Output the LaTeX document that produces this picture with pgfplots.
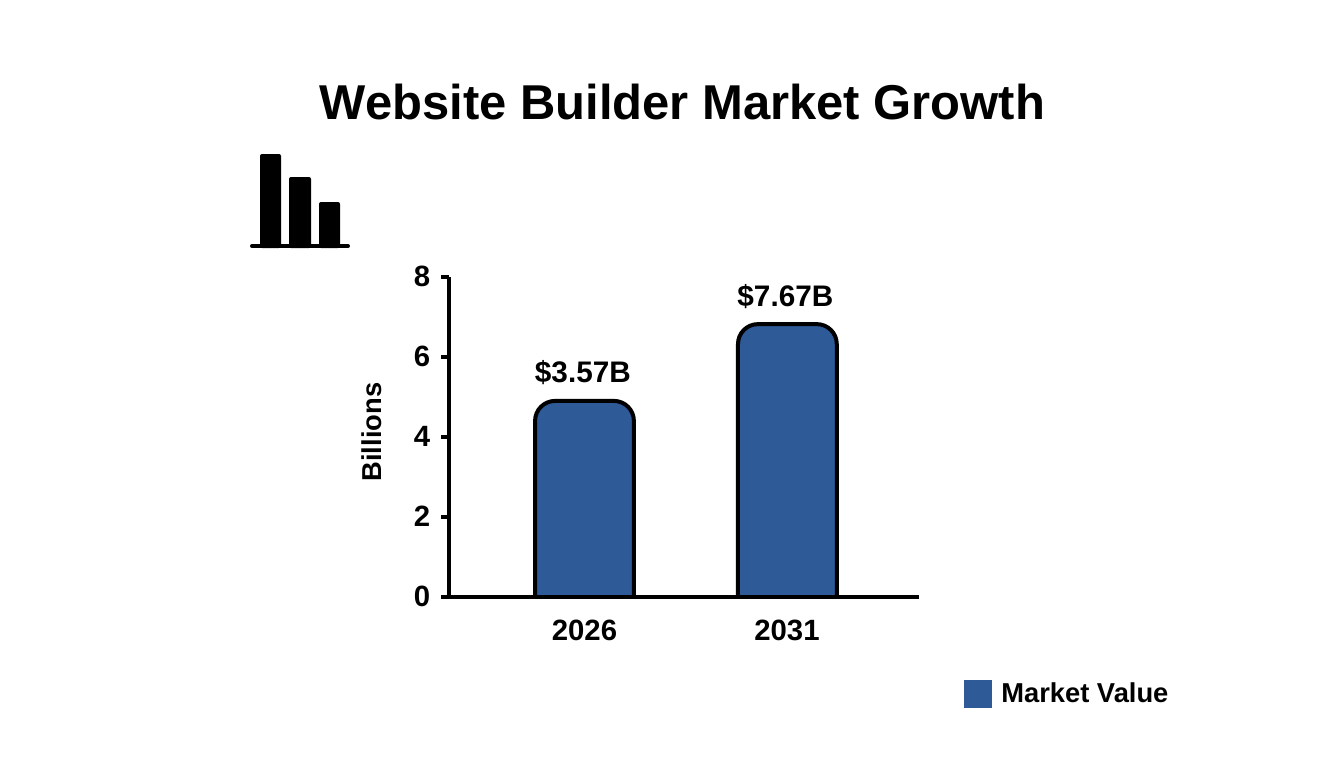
\documentclass[border=0pt]{standalone}
\usepackage{fontspec}
\setmainfont{Liberation Sans}
\usepackage{pgfplots}
\pgfplotsset{compat=1.18}
\definecolor{barblue}{HTML}{2F5A98}
\begin{document}
\begin{tikzpicture}
  \begin{scope}[x=0.75pt,y=-0.75pt]
  \path (0,0) rectangle (1344,768);
  \node[font=\fontsize{36.7pt}{42pt}\selectfont\bfseries] at (682.5,102) {Website Builder Market Growth};

  % icon
  \fill[black,rounded corners=1.5pt] (260,248) rectangle (281,154);
  \fill[black,rounded corners=1.5pt] (289,248) rectangle (311,177);
  \fill[black,rounded corners=1.5pt] (319,248) rectangle (340,202);
  \draw[black,line width=3pt,line cap=round] (252,246) -- (348,246);
  \end{scope}

  \begin{axis}[
    at={(336.75pt,-447.375pt)},
    anchor=south west,
    scale only axis,
    width=352.5pt,
    height=240pt,
    xmin=-0.669,xmax=1.652,
    ymin=0,ymax=8,
    axis lines=left,
    axis on top,
    axis line style={line width=3pt,-},
    xtick={0,1},
    xticklabels={2026,2031},
    ytick={0,2,4,6,8},
    tick align=outside,
    major tick length=6pt,
    y tick style={black,line width=3pt},
    x tick style={draw=none},
    /pgf/number format/assume math mode=true,
    tick label style={font=\fontsize{22pt}{24pt}\selectfont\bfseries},
    xticklabel style={yshift=-8pt},
    yticklabel style={xshift=-4.5pt},
    ylabel={Billions},
    every axis y label/.style={at={(axis description cs:-0.164,0.514)},rotate=90,anchor=center},
    label style={font=\fontsize{20.5pt}{24pt}\selectfont\bfseries},
    legend style={at={(1.096,-0.303)},anchor=west,draw=none,fill=none,inner sep=0pt,
      font=\fontsize{20.5pt}{24pt}\selectfont\bfseries},
    legend image code/.code={\fill[barblue] (0pt,-10pt) rectangle (20pt,10pt);\path[draw=none] (0pt,0pt) -- (25.5pt,0pt);},
  ]
  \addlegendimage{barblue}
  \addlegendentry{Market Value}

  \addplot[fill=barblue,draw=black,line width=3pt,rounded corners=15pt,forget plot] coordinates {
    (-0.244,0) (-0.244,4.89) (0.244,4.89) (0.244,0)
  };
  \addplot[fill=barblue,draw=black,line width=3pt,rounded corners=15pt,forget plot] coordinates {
    (0.758,0) (0.758,6.81) (1.246,6.81) (1.246,0)
  };
  \addplot[draw=none,mark=none,forget plot,
    nodes near coords,point meta=explicit symbolic,
    every node near coord/.style={font=\fontsize{22.3pt}{24pt}\selectfont\bfseries,anchor=center,xshift=-1.2pt,yshift=21pt}]
    coordinates {(0,4.89)[\$3.57B] (1,6.81)[\$7.67B]};
  \end{axis}
\end{tikzpicture}
\end{document}
